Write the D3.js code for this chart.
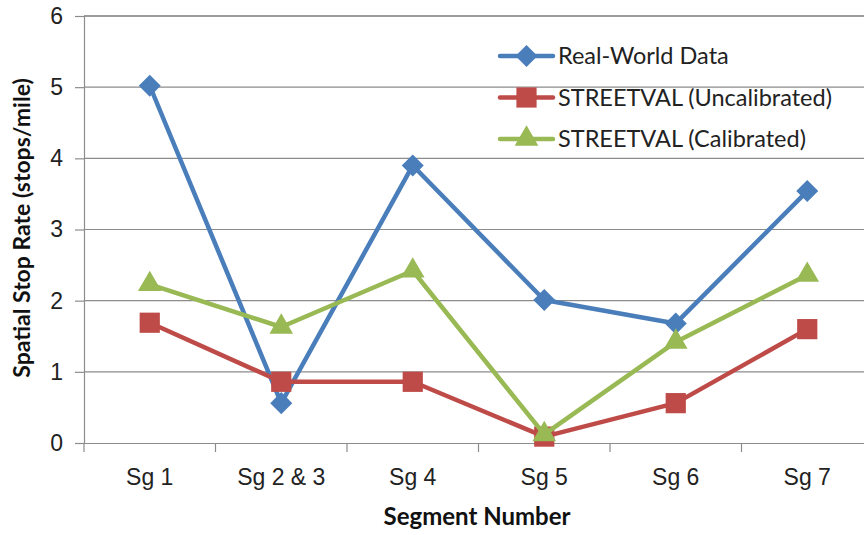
<!DOCTYPE html>
<html>
<head>
<meta charset="utf-8">
<script src="https://cdn.jsdelivr.net/npm/d3@7/dist/d3.min.js"></script>
<style>
  html, body { margin: 0; padding: 0; background: #fff; }
  svg { display: block; font-family: Lato, "Open Sans", sans-serif; }
</style>
</head>
<body>
<svg id="chart" width="864" height="535"></svg>
<script>
const categories = ["Sg 1", "Sg 2 & 3", "Sg 4", "Sg 5", "Sg 6", "Sg 7"];
const realWorld = [5.02, 0.56, 3.9, 2.01, 1.68, 3.54];
const uncalibrated = [1.69, 0.86, 0.86, 0.09, 0.56, 1.6];
const calibrated = [2.23, 1.63, 2.42, 0.12, 1.42, 2.36];
const yTicks = [0, 1, 2, 3, 4, 5, 6];

const series = [
  { name: "Real-World Data", values: realWorld, color: "#4A7EBB", symbol: "diamond" },
  { name: "STREETVAL (Uncalibrated)", values: uncalibrated, color: "#BE4B48", symbol: "square" },
  { name: "STREETVAL (Calibrated)", values: calibrated, color: "#98B954", symbol: "triangle" }
];

const svg = d3.select("#chart");
const plot = { left: 84, right: 873, top: 16, bottom: 443 };

const x = d3.scaleBand().domain(categories).range([plot.left, plot.right]);
const y = d3.scaleLinear().domain([0, 6]).range([plot.bottom, plot.top]);

// horizontal gridlines
svg.append("g")
  .selectAll("line")
  .data(yTicks.filter(d => d > 0))
  .join("line")
  .attr("x1", plot.left).attr("x2", 864)
  .attr("y1", d => y(d)).attr("y2", d => y(d))
  .attr("stroke", d => d === 6 ? "#3a3a3a" : "#8c8c8c")
  .attr("stroke-width", 1.2);

// y axis
const yAxis = svg.append("g")
  .attr("transform", `translate(${plot.left},0)`)
  .call(d3.axisLeft(y).tickValues(yTicks).tickSize(9).tickPadding(12).tickFormat(d3.format("d")));
yAxis.select(".domain").attr("stroke", "#8c8c8c").attr("stroke-width", 1.2);
yAxis.selectAll(".tick line").attr("stroke", "#8c8c8c").attr("stroke-width", 1.2);
yAxis.selectAll(".tick text")
  .attr("font-size", 23).attr("fill", "#222");

// x axis
const xAxis = svg.append("g")
  .attr("transform", `translate(0,${plot.bottom})`)
  .call(d3.axisBottom(x).tickSize(0).tickPadding(26));
xAxis.select(".domain").attr("stroke", "#8c8c8c").attr("stroke-width", 1.2);
xAxis.selectAll(".tick text")
  .attr("font-size", 23).attr("fill", "#222");
// category boundary ticks
svg.append("g")
  .selectAll("line")
  .data(categories)
  .join("line")
  .attr("x1", d => x(d)).attr("x2", d => x(d))
  .attr("y1", plot.bottom).attr("y2", plot.bottom + 9)
  .attr("stroke", "#8c8c8c").attr("stroke-width", 1.2);

// axis titles
svg.append("text")
  .attr("x", 477).attr("y", 525)
  .attr("text-anchor", "middle")
  .attr("font-size", 24).attr("font-weight", "bold").attr("fill", "#111")
  .text("Segment Number");
svg.append("text")
  .attr("transform", "translate(30,228) rotate(-90)")
  .attr("text-anchor", "middle")
  .attr("font-size", 23).attr("font-weight", "bold").attr("fill", "#111")
  .text("Spatial Stop Rate (stops/mile)");

const symbolFor = {
  diamond: d3.symbol().type(d3.symbolDiamond2).size(310),
  square: d3.symbol().type(d3.symbolSquare2).size(520),
  triangle: d3.symbol().type(d3.symbolTriangle2).size(400)
};

const line = d3.line()
  .x((d, i) => x(categories[i]) + x.bandwidth() / 2)
  .y(d => y(d));

series.forEach(s => {
  const g = svg.append("g");
  g.append("path")
    .attr("d", line(s.values))
    .attr("fill", "none")
    .attr("stroke", s.color)
    .attr("stroke-width", 4.5)
    .attr("stroke-linejoin", "round");
  g.selectAll("path.pt")
    .data(s.values)
    .join("path")
    .attr("class", "pt")
    .attr("transform", (d, i) => `translate(${x(categories[i]) + x.bandwidth() / 2},${y(d)})`)
    .attr("d", symbolFor[s.symbol])
    .attr("fill", s.color);
});

// legend
const legend = svg.append("g").attr("transform", "translate(500,56)");
series.forEach((s, i) => {
  const row = legend.append("g").attr("transform", `translate(0,${i * 41.5})`);
  row.append("line")
    .attr("x1", 0).attr("x2", 53).attr("y1", 0).attr("y2", 0)
    .attr("stroke", s.color).attr("stroke-width", 4.5).attr("stroke-linecap", "round");
  row.append("path")
    .attr("transform", "translate(26.5,0)")
    .attr("d", symbolFor[s.symbol])
    .attr("fill", s.color);
  row.append("text")
    .attr("x", 58).attr("y", 8)
    .attr("font-size", 23.5).attr("fill", "#222")
    .text(s.name);
});
</script>
</body>
</html>
